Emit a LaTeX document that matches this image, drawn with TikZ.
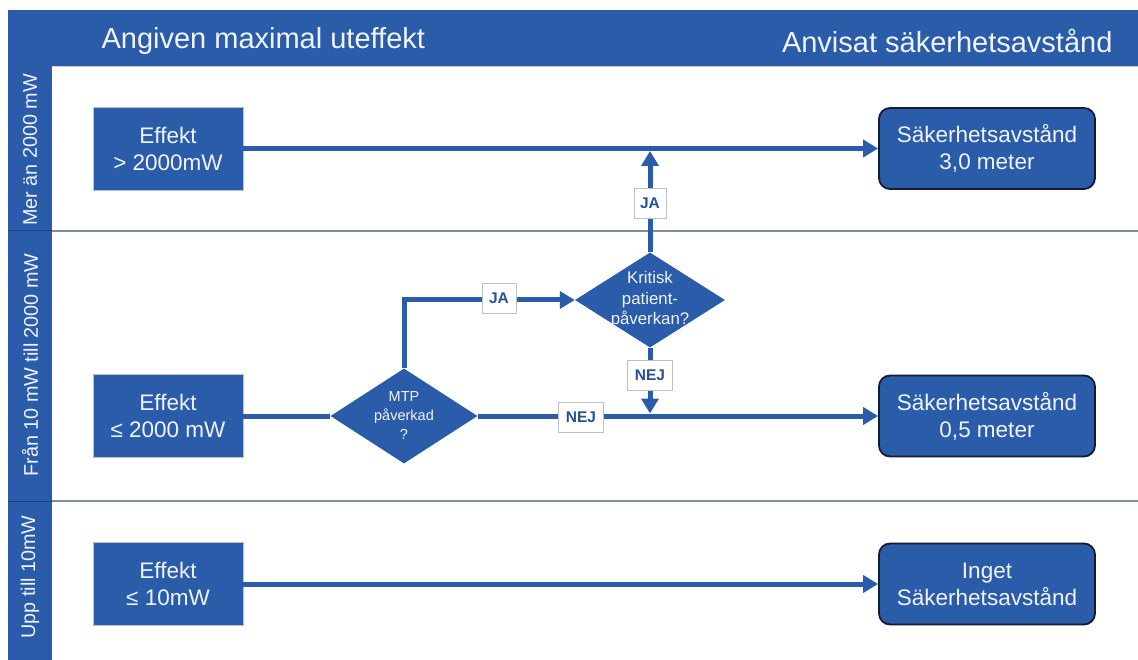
\documentclass[tikz,border=0pt]{standalone}
\usepackage{fontspec}
\setmainfont{Liberation Sans}
\usetikzlibrary{arrows.meta,shapes.geometric}
\definecolor{mblue}{RGB}{42,92,170}
\definecolor{sepgray}{RGB}{128,140,156}
\definecolor{navy}{RGB}{20,28,50}
\definecolor{lblblue}{RGB}{36,80,150}
\definecolor{txtw}{RGB}{240,244,250}
\begin{document}
\begin{tikzpicture}[x=1pt,y=-1pt,
 srcbox/.style={draw=black!25, line width=0.6pt, fill=mblue, text=txtw, minimum width=150pt, minimum height=83pt, align=center, font=\fontsize{22.5}{27}\selectfont, inner sep=0pt},
 dstbox/.style={draw=navy, line width=1.8pt, fill=mblue, rounded corners=11pt, text=txtw, minimum width=216pt, minimum height=81pt, align=center, font=\fontsize{22.5}{27}\selectfont, inner sep=0pt},
 dec/.style={diamond, fill=mblue, inner sep=0pt},
 dectext/.style={text=txtw, align=center, inner sep=0pt},
 lbl/.style={draw=black!25, line width=0.8pt, fill=white, text=lblblue, font=\fontsize{15.5}{15.5}\selectfont\bfseries, inner sep=0pt, minimum height=30pt},
 flow/.style={draw=mblue, line width=5pt},
 arr/.style={flow, -{Triangle[width=17pt,length=15pt]}},
 sepline/.style={draw=sepgray, line width=1.6pt},
 side/.style={rotate=90, text=txtw, font=\fontsize{19.8}{19.8}\selectfont},
 head/.style={text=txtw, font=\fontsize{29}{29}\selectfont}
]
\useasboundingbox (0,0) rectangle (1138,660);
\fill[white] (0,0) rectangle (1138,660);
% frame
\fill[mblue] (8,10) rectangle (1138,66);
\fill[mblue] (8,10) rectangle (52,660);
\draw[black!20, line width=1pt] (52,66.5) -- (1138,66.5);
\draw[sepline] (52,231) -- (1138,231);
\draw[sepline] (52,501) -- (1138,501);
\draw[black!30!mblue, line width=1pt] (8,231) -- (52,231);
\draw[black!30!mblue, line width=1pt] (8,501) -- (52,501);
% header
\node[head, anchor=west] (h1) at (98,41) {Angiven maximal uteffekt};
\node[head, anchor=east] (h2) at (1116,41) {Anvisat säkerhetsavstånd};
% side labels
\node[side] (l1) at (30,150) {Mer än 2000 mW};
\node[side] (l2) at (30,365) {Från 10 mW till 2000 mW};
\node[side] (l3) at (30,577) {Upp till 10mW};
% boxes
\node[srcbox] (s1) at (168,148.5) {Effekt\\> 2000mW};
\node[srcbox] (s2) at (168,416) {Effekt\\≤ 2000 mW};
\node[srcbox] (s3) at (168,584) {Effekt\\≤ 10mW};
\node[dstbox] (d1) at (987,148.5) {Säkerhetsavstånd\\3,0 meter};
\node[dstbox] (d2) at (987,416) {Säkerhetsavstånd\\0,5 meter};
\node[dstbox] (d3) at (987,584) {Inget\\Säkerhetsavstånd};
% diamonds
\node[dec, minimum width=147pt, minimum height=95pt] (mtp) at (404,416) {};
\node[dectext, font=\fontsize{14.5}{19}\selectfont] (mtpt) at (mtp) {MTP\\påverkad\\?};
\node[dec, minimum width=150pt, minimum height=95pt] (kr) at (650,300) {};
\node[dectext, font=\fontsize{16.8}{20.5}\selectfont] (krt) at (kr) {Kritisk\\patient-\\påverkan?};
% connectors
\draw[arr] (s1.east) -- (d1.west);
\draw[flow] (s2.east) -- (mtp.west);
\draw[arr] (mtp.east) -- (d2.west);
\draw[arr] (s3.east) -- (d3.west);
\draw[arr] (mtp.north) |- (kr.west);
\draw[arr, shorten >=2.5pt] (kr.north) -- (kr.north |- s1.east);
\draw[arr, shorten >=2.5pt] (kr.south) -- (kr.south |- mtp.east);
% labels
\node[lbl, minimum width=34pt] (ja1) at (499,298) {JA};
\node[lbl, minimum width=32pt] (ja2) at (650,203) {JA};
\node[lbl, minimum width=45pt] (nej1) at (650,375) {NEJ};
\node[lbl, minimum width=45pt] (nej2) at (581,417) {NEJ};
\end{tikzpicture}
\end{document}
